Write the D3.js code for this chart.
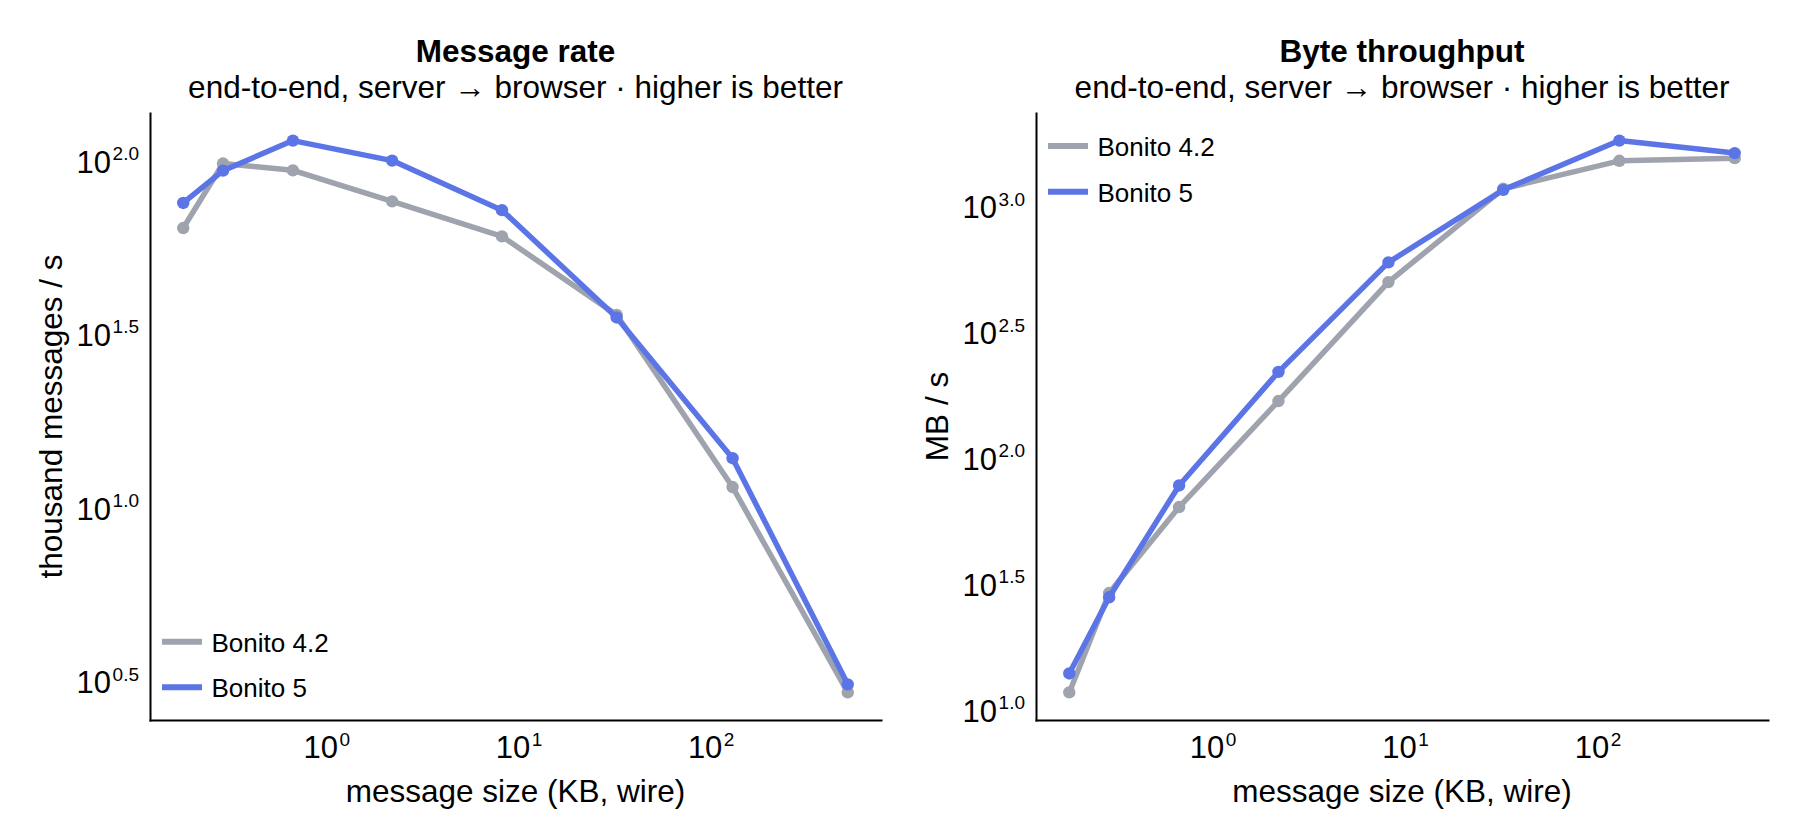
<!DOCTYPE html>
<html>
<head>
<meta charset="utf-8">
<script src="https://cdn.jsdelivr.net/npm/d3@7"></script>
<style>
  body { margin: 0; background: #fff; }
  svg text { font-family: "Liberation Sans", Arial, Helvetica, sans-serif; fill: #000; }
</style>
</head>
<body>
<div class="chart-box"></div>
<script>
let width = 1800, height = 840;

// message size on the wire, KB
let sizeKB = [0.18, 0.29, 0.67, 2.2, 8.2, 32.4, 130, 517];
// thousand messages / s
let rate42 = [63.5, 97.4, 93.1, 75.8, 60.1, 35.7, 11.4, 2.92];
let rate5 = [75.0, 92.9, 113.4, 99.3, 71.5, 35.1, 13.8, 3.08];
// MB / s
let mbps42 = [11.6, 28.8, 63.3, 167, 496, 1165, 1505, 1542];
let mbps5 = [13.8, 27.7, 77.1, 218, 594, 1154, 1811, 1615];

let seriesNames = ["Bonito 4.2", "Bonito 5"];
let seriesColors = ["#9ea3ad", "#5c75e6"];

// tick exponents (10^e)
let sizeTicks = ["0", "1", "2"];
let rateTicks = ["0.5", "1.0", "1.5", "2.0"];
let mbTicks = ["1.0", "1.5", "2.0", "2.5", "3.0"];

let subtitle = "end-to-end, server \u2192 browser \u00b7 higher is better";

let svg = d3.select(".chart-box")
  .append("svg")
  .attr("width", width)
  .attr("height", height);

// makie-like auto limits: 5% padding in log space
function paddedLog(values) {
  let lo = Math.log10(d3.min(values)), hi = Math.log10(d3.max(values));
  let pad = (hi - lo) * 0.05;
  return [Math.pow(10, lo - pad), Math.pow(10, hi + pad)];
}

function powerLabel(text, exp) {
  text.text(null);
  text.append("tspan").text("10");
  text.append("tspan")
    .attr("font-size", 19)
    .attr("dx", 1.5)
    .attr("dy", -12.7)
    .text(exp);
}

function renderPanel(p) {
  let top = 113, bottom = 720;
  let g = svg.append("g");

  let x = d3.scaleLog().domain(paddedLog(sizeKB)).range([p.left, p.right]);
  let y = d3.scaleLog().domain(paddedLog(p.series.flat())).range([bottom, top]);

  // axes
  let xAxis = d3.axisBottom(x)
    .tickValues(sizeTicks.map(e => Math.pow(10, +e)))
    .tickSize(0).tickSizeOuter(0).tickFormat("");
  let gx = g.append("g").attr("transform", `translate(0,${bottom})`).call(xAxis);
  gx.selectAll(".tick text")
    .attr("y", 38.3).attr("dy", null)
    .attr("font-size", 31).attr("font-family", null)
    .each(function(d, i) { powerLabel(d3.select(this), sizeTicks[i]); });

  let yAxis = d3.axisLeft(y)
    .tickValues(p.ticks.map(e => Math.pow(10, +e)))
    .tickSize(0).tickSizeOuter(0).tickFormat("");
  let gy = g.append("g").attr("transform", `translate(${p.left},0)`).call(yAxis);
  gy.selectAll(".tick text")
    .attr("x", -11).attr("dy", 12.5)
    .attr("font-size", 31).attr("font-family", null)
    .each(function(d, i) { powerLabel(d3.select(this), p.ticks[i]); });

  g.selectAll(".domain")
    .attr("stroke", "#000")
    .attr("stroke-width", 2)
    .attr("stroke-linecap", "square");

  // titles
  let cx = (p.left + p.right) / 2;
  g.append("text").attr("x", cx).attr("y", 61.7)
    .attr("text-anchor", "middle").attr("font-size", 31.5).attr("font-weight", "bold")
    .text(p.title);
  g.append("text").attr("x", cx).attr("y", 98)
    .attr("text-anchor", "middle").attr("font-size", 31.5)
    .text(subtitle);

  g.append("text").attr("x", cx).attr("y", 801.5)
    .attr("text-anchor", "middle").attr("font-size", 31.5)
    .text("message size (KB, wire)");
  g.append("text")
    .attr("transform", `translate(${p.left - 88},${(top + bottom) / 2}) rotate(-90)`)
    .attr("text-anchor", "middle").attr("font-size", 31.5)
    .text(p.ylabel);

  // lines + markers
  let line = d3.line().x(d => x(d[0])).y(d => y(d[1]));
  p.series.forEach((vals, si) => {
    let pts = sizeKB.map((s, i) => [s, vals[i]]);
    g.append("path")
      .datum(pts)
      .attr("d", line)
      .attr("fill", "none")
      .attr("stroke", seriesColors[si])
      .attr("stroke-width", 5.5)
      .attr("stroke-linejoin", "round");
    g.append("g").selectAll("circle")
      .data(pts)
      .enter()
      .append("circle")
      .attr("cx", d => x(d[0]))
      .attr("cy", d => y(d[1]))
      .attr("r", 6.2)
      .attr("fill", seriesColors[si]);
  });

  // legend
  let rowY = p.legendTop ? [top + 33, top + 78.7] : [bottom - 78.3, bottom - 32.7];
  let lg = g.append("g");
  seriesNames.forEach((name, si) => {
    lg.append("line")
      .attr("x1", p.left + 12).attr("x2", p.left + 52)
      .attr("y1", rowY[si]).attr("y2", rowY[si])
      .attr("stroke", seriesColors[si]).attr("stroke-width", 6);
    lg.append("text")
      .attr("x", p.left + 61.5).attr("y", rowY[si] + 10)
      .attr("font-size", 26)
      .text(name);
  });
}

renderPanel({
  left: 150, right: 881,
  title: "Message rate",
  ylabel: "thousand messages / s",
  series: [rate42, rate5],
  ticks: rateTicks,
  legendTop: false
});

renderPanel({
  left: 1036, right: 1768,
  title: "Byte throughput",
  ylabel: "MB / s",
  series: [mbps42, mbps5],
  ticks: mbTicks,
  legendTop: true
});
</script>
</body>
</html>
